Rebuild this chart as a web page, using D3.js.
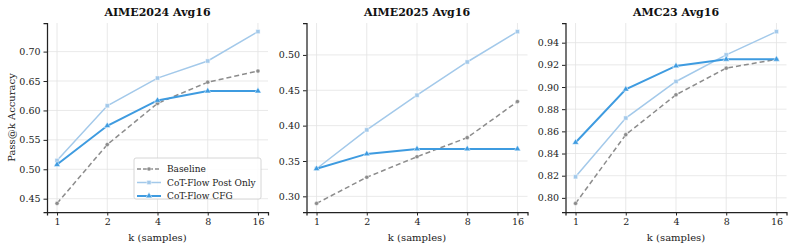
<!DOCTYPE html>
<html>
<head>
<meta charset="utf-8">
<script src="https://cdn.jsdelivr.net/npm/d3@7"></script>
<style>
  body { margin: 0; background: #fff; }
  svg text { font-family: "DejaVu Serif", serif; }
</style>
</head>
<body>
<div id="chart"></div>
<script>
// k values (plotted on a log2 axis, evenly spaced)
const kValues = [1, 2, 4, 8, 16];
const seriesNames = ["Baseline", "CoT-Flow Post Only", "CoT-Flow CFG"];

// AIME2024 Avg16
const aime24Baseline = [0.442, 0.542, 0.612, 0.648, 0.667];
const aime24Post = [0.515, 0.608, 0.655, 0.684, 0.734];
const aime24Cfg = [0.508, 0.574, 0.617, 0.633, 0.633];
const aime24Ticks = [0.45, 0.50, 0.55, 0.60, 0.65, 0.70];

// AIME2025 Avg16
const aime25Baseline = [0.290, 0.327, 0.356, 0.383, 0.434];
const aime25Post = [0.339, 0.394, 0.443, 0.490, 0.533];
const aime25Cfg = [0.339, 0.360, 0.367, 0.367, 0.367];
const aime25Ticks = [0.30, 0.35, 0.40, 0.45, 0.50];

// AMC23 Avg16
const amcBaseline = [0.795, 0.857, 0.893, 0.917, 0.925];
const amcPost = [0.819, 0.872, 0.905, 0.929, 0.950];
const amcCfg = [0.850, 0.898, 0.919, 0.925, 0.925];
const amcTicks = [0.80, 0.82, 0.84, 0.86, 0.88, 0.90, 0.92, 0.94];

const panels = [
  { title: "AIME2024 Avg16", series: [aime24Baseline, aime24Post, aime24Cfg], ticks: aime24Ticks, left: 47 },
  { title: "AIME2025 Avg16", series: [aime25Baseline, aime25Post, aime25Cfg], ticks: aime25Ticks, left: 306.5 },
  { title: "AMC23 Avg16", series: [amcBaseline, amcPost, amcCfg], ticks: amcTicks, left: 565.5 }
];

const styles = [
  { color: "#8c8c8c", width: 1.5, dash: "5,3", marker: "circle" },
  { color: "#a3c9ea", width: 1.5, dash: null, marker: "square" },
  { color: "#3e9be0", width: 2, dash: null, marker: "triangle" }
];

const W = 793, H = 249;
const plotTop = 23, plotBottom = 212, plotW = 221;
const serif = "'DejaVu Serif', serif";

const svg = d3.select("#chart").append("svg")
  .attr("width", W)
  .attr("height", H);

const symbolFor = {
  circle: d3.symbol().type(d3.symbolCircle).size(14),
  square: d3.symbol().type(d3.symbolSquare).size(18),
  triangle: d3.symbol().type(d3.symbolTriangle).size(18)
};

panels.forEach(p => {
  const g = svg.append("g").attr("transform", `translate(${p.left},0)`);

  const x = d3.scaleLinear().domain([-0.2, 4.2]).range([0, plotW]);
  const all = p.series.flat();
  const lo = d3.min(all), hi = d3.max(all), pad = (hi - lo) * 0.05;
  const y = d3.scaleLinear().domain([lo - pad, hi + pad]).range([plotBottom, plotTop]);

  // grid
  g.append("g").selectAll("line")
    .data(kValues).enter().append("line")
    .attr("x1", d => x(Math.log2(d))).attr("x2", d => x(Math.log2(d)))
    .attr("y1", plotTop).attr("y2", plotBottom)
    .attr("stroke", "#e3e3e3").attr("stroke-width", 0.8);
  g.append("g").selectAll("line")
    .data(p.ticks).enter().append("line")
    .attr("x1", 0).attr("x2", plotW)
    .attr("y1", d => y(d)).attr("y2", d => y(d))
    .attr("stroke", "#e3e3e3").attr("stroke-width", 0.8);

  // axes
  const xAxis = g.append("g").attr("transform", `translate(0,${plotBottom})`)
    .call(d3.axisBottom(x).tickValues(kValues.map(k => Math.log2(k)))
      .tickFormat((d, i) => kValues[i]).tickSizeOuter(0).tickSize(3.5).tickPadding(3));
  const yAxis = g.append("g")
    .call(d3.axisLeft(y).tickValues(p.ticks).tickFormat(d3.format(".2f"))
      .tickSizeOuter(0).tickSize(3.5).tickPadding(3));
  [xAxis, yAxis].forEach(a => {
    a.attr("font-family", serif).attr("font-size", 9.5);
    a.select(".domain").attr("stroke", "#222").attr("stroke-width", 1.25);
    a.selectAll(".tick line").attr("stroke", "#222").attr("stroke-width", 1);
    a.selectAll("text").attr("fill", "#222");
  });

  // lines
  const line = d3.line().x((d, i) => x(Math.log2(kValues[i]))).y(d => y(d));
  p.series.forEach((vals, si) => {
    const st = styles[si];
    g.append("path").datum(vals)
      .attr("fill", "none")
      .attr("stroke", st.color)
      .attr("stroke-width", st.width)
      .attr("stroke-dasharray", st.dash)
      .attr("d", line);
    g.append("g").selectAll("path")
      .data(vals).enter().append("path")
      .attr("transform", (d, i) => `translate(${x(Math.log2(kValues[i]))},${y(d)})`)
      .attr("d", symbolFor[st.marker])
      .attr("fill", st.color)
      .attr("stroke", "#fff").attr("stroke-width", 0.5);
  });

  // title
  g.append("text")
    .attr("x", plotW / 2).attr("y", 16)
    .attr("text-anchor", "middle")
    .attr("font-family", serif).attr("font-size", 11).attr("font-weight", "bold")
    .attr("fill", "#111")
    .text(p.title);

  // x label
  g.append("text")
    .attr("x", plotW / 2).attr("y", 241)
    .attr("text-anchor", "middle")
    .attr("font-family", serif).attr("font-size", 10)
    .attr("fill", "#222")
    .text("k (samples)");
});

// y label
svg.append("text")
  .attr("transform", `translate(15,${(plotTop + plotBottom) / 2}) rotate(-90)`)
  .attr("text-anchor", "middle")
  .attr("font-family", serif).attr("font-size", 10)
  .attr("fill", "#222")
  .text("Pass@k Accuracy");

// legend
const lg = svg.append("g").attr("transform", "translate(134,158)");
lg.append("rect")
  .attr("width", 127).attr("height", 41)
  .attr("rx", 2)
  .attr("fill", "#fff").attr("fill-opacity", 0.85)
  .attr("stroke", "#cccccc").attr("stroke-width", 0.8);
seriesNames.forEach((name, i) => {
  const st = styles[i];
  const yy = 11 + i * 13.5;
  lg.append("line")
    .attr("x1", 3).attr("x2", 27).attr("y1", yy).attr("y2", yy)
    .attr("stroke", st.color).attr("stroke-width", st.width)
    .attr("stroke-dasharray", st.dash ? "4,2" : null);
  lg.append("path")
    .attr("transform", `translate(15,${yy})`)
    .attr("d", symbolFor[st.marker])
    .attr("fill", st.color).attr("stroke", "#fff").attr("stroke-width", 0.5);
  lg.append("text")
    .attr("x", 33).attr("y", yy + 3.3)
    .attr("font-family", serif).attr("font-size", 9)
    .attr("fill", "#222")
    .text(name);
});
</script>
</body>
</html>
